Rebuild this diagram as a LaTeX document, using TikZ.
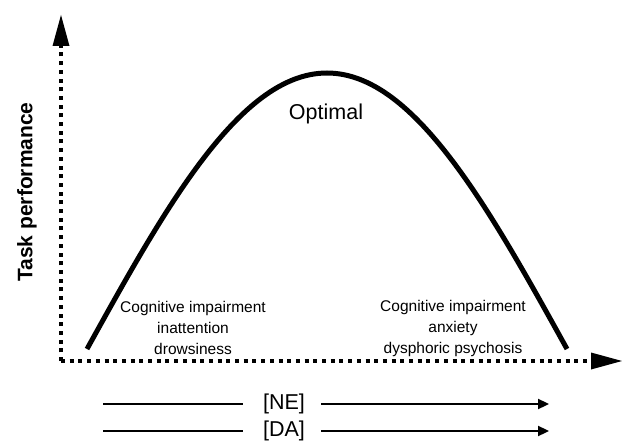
\documentclass[tikz,border=0pt]{standalone}
\usepackage{fontspec}
\setmainfont{Liberation Sans}
\usetikzlibrary{arrows.meta}
\begin{document}
\begin{tikzpicture}[x=1pt,y=-1pt,line join=round,
  axis/.style={line width=4pt,dash pattern=on 4pt off 4.7pt,
    -{Triangle[length=31pt,width=17pt,line width=0pt]}},
  dose/.style={line width=2.3pt,-{Triangle[length=11pt,width=10pt]}},
  small/.style={font=\fontsize{15.5}{21}\selectfont,align=center},
  big/.style={font=\fontsize{21.5}{25}\selectfont}]
\useasboundingbox (0,0) rectangle (622,441);
\def \xo{61}\def \yo{361}
\coordinate (O) at (\xo,\yo);
\coordinate (ytip) at (\xo,15);
\coordinate (xtip) at (622,\yo);
\draw[axis] (O)--(ytip);
\draw[axis] (O)--(xtip);
\node[font=\fontsize{21}{25}\selectfont\bfseries,rotate=90] (ylab) at (27,192) {Task performance};
% inverted U
\draw[line width=5pt,smooth,samples=61,domain=-90:90,variable=\t] plot({327+\t*8/3},{349-276*cos(\t)});
\node[big] (opt) at (326,114) {Optimal};
\node[small] (low) at (193,328) {Cognitive impairment\\inattention\\drowsiness};
\node[small] (high) at (453,328) {Cognitive impairment\\anxiety\\dysphoric psychosis};
% catecholamine levels
\node[big,inner sep=0pt] (ne) at (284,404) {[NE]};
\node[big,inner sep=0pt] (da) at (284,431) {[DA]};
\coordinate (nea) at (103,404); \coordinate (neb) at (549,404);
\coordinate (daa) at (103,431); \coordinate (dab) at (549,431);
\draw[dose] (nea)--([xshift=-20pt]ne.west) ([xshift=16pt]ne.east)--(neb);
\draw[dose] (daa)--([xshift=-20pt]ne.west|-da) ([xshift=16pt]ne.east|-da)--(dab);
\end{tikzpicture}
\end{document}
